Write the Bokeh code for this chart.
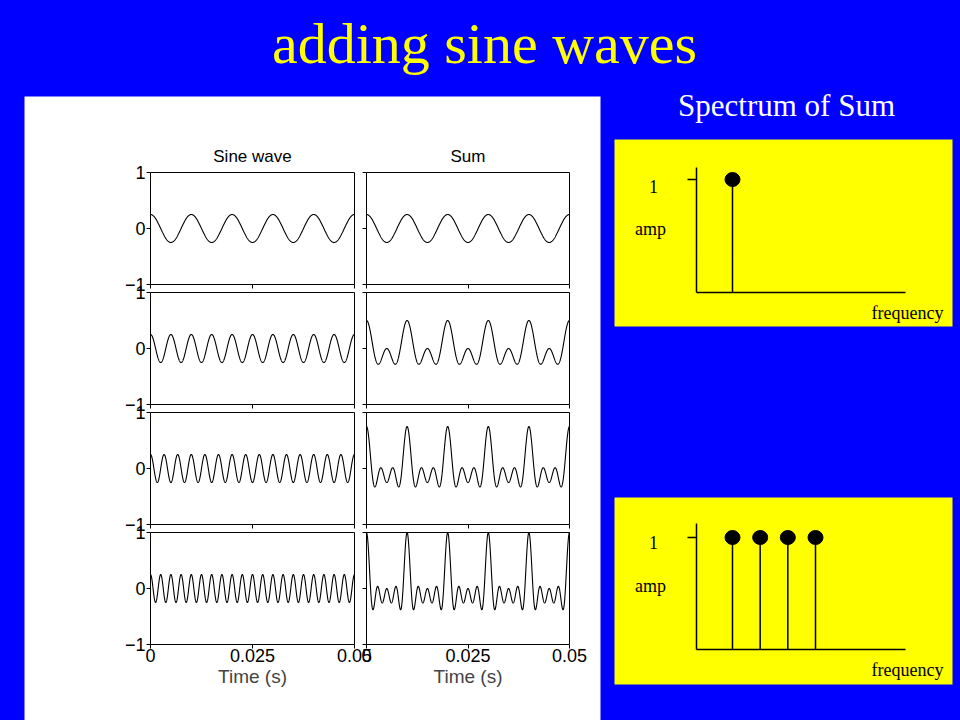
import numpy as np
from bokeh.plotting import figure
from bokeh.models import Range1d, LinearAxis, FixedTicker, Label, BoxAnnotation
from bokeh.embed import file_html
from bokeh.resources import INLINE

# ---------------- data ----------------
freqs_hz = [100, 200, 300, 400]          # frequency of each added sine (Hz)
sine_amp = [0.25, 0.25, 0.25, 0.25]       # amplitude of each sine
t_end = 0.05                              # seconds shown
x_ticks = [0, 0.025, 0.05]
y_ticks = [-1, 0, 1]
col_titles = ["Sine wave", "Sum"]
spec1_freq = [100]
spec1_amp = [1]
spec2_freq = [100, 200, 300, 400]
spec2_amp = [1, 1, 1, 1]

BLUE = "#0000ff"
YELLOW = "#ffff00"
SANS = "Liberation Sans"
SERIF = "Liberation Serif"
W, H = 960, 720
BASE_CORR = 0.31   # em-fraction lift for alphabetic baselines

t = np.linspace(0, t_end, 1601)
waves = [a * np.cos(2 * np.pi * f * t) for f, a in zip(freqs_hz, sine_amp)]
sums = list(np.cumsum(np.array(waves), axis=0))


def lin_range(p0, p1, v0, v1, size):
    """Range whose value v0 sits at pixel p0 and v1 at pixel p1 (pixels from left/bottom)."""
    k = (v1 - v0) / (p1 - p0)
    return Range1d(v0 - p0 * k, v0 + (size - p0) * k)


def up(y_from_top):
    return H - y_from_top


# ---------------- layout geometry (pixels) ----------------
col_px = [(150, 354), (366, 569)]                          # x of t=0 / t=t_end
row_px = [(up(284 + 120 * i), up(172 + 120 * i)) for i in range(4)]  # y of -1 / 1
col_names = ["cL", "cR"]
row_names = ["r0", "r1", "r2", "r3"]

extra_x = {n: lin_range(c[0], c[1], 0, t_end, W) for n, c in zip(col_names, col_px)}
extra_x["F"] = lin_range(732, 815, 100, 400, W)
extra_y = {n: lin_range(r[0], r[1], -1, 1, H) for n, r in zip(row_names, row_px)}
extra_y["A1"] = lin_range(up(292), up(179), 0, 1, H)
extra_y["A2"] = lin_range(up(649), up(537), 0, 1, H)

p = figure(width=W, height=H, x_range=Range1d(0, W), y_range=Range1d(0, H),
           extra_x_ranges=extra_x, extra_y_ranges=extra_y,
           output_backend="svg", toolbar_location=None,
           x_axis_type=None, y_axis_type=None, min_border=0)
p.min_border_left = p.min_border_right = p.min_border_top = p.min_border_bottom = 0
p.background_fill_color = BLUE
p.border_fill_color = BLUE
p.outline_line_color = None

# panels (backgrounds)
p.add_layout(BoxAnnotation(left=24, right=600, bottom=-10, top=up(96),
                           fill_color="white", fill_alpha=1.0, line_color=None,
                           level="underlay"))
for top_px, bot_px in [(139, 326), (497, 684)]:
    p.add_layout(BoxAnnotation(left=614, right=952, bottom=up(bot_px), top=up(top_px),
                               fill_color=YELLOW, fill_alpha=1.0, line_color=None,
                               level="underlay"))

# titles
p.add_layout(Label(x=484, y=up(61) + BASE_CORR * 58, text="adding sine waves",
                   text_align="center", text_baseline="alphabetic",
                   text_font=SERIF, text_font_size="58px", text_color=YELLOW))
p.add_layout(Label(x=786, y=up(115) + BASE_CORR * 31, text="Spectrum of Sum",
                   text_align="center", text_baseline="alphabetic",
                   text_font=SERIF, text_font_size="31px", text_color="white"))

# ---------------- 4 x 2 small plots ----------------
axis_common = dict(minor_tick_out=0, minor_tick_in=0, major_tick_in=0,
                   axis_line_color="black", axis_line_width=1,
                   major_tick_line_color="black", major_tick_line_width=1,
                   major_label_text_font=SANS, major_label_text_font_size="18px")

for i in range(4):
    for c in range(2):
        xn, yn = col_names[c], row_names[i]
        data = waves[i] if c == 0 else sums[i]
        last = (i == 3)
        xax = LinearAxis(x_range_name=xn, y_range_name=yn, fixed_location=-1,
                         bounds=(0, t_end), ticker=FixedTicker(ticks=x_ticks),
                         major_tick_out=4, major_label_standoff=0,
                         major_label_text_color="black" if last else None,
                         major_label_overrides={0: "0", 0.025: "0.025", 0.05: "0.05"},
                         **axis_common)
        if last:
            xax.axis_label = "Time (s)"
            xax.axis_label_text_font = SANS
            xax.axis_label_text_font_size = "19px"
            xax.axis_label_text_font_style = "normal"
            xax.axis_label_standoff = 1
        p.add_layout(xax, "below")
        yax = LinearAxis(x_range_name=xn, y_range_name=yn, fixed_location=0,
                         bounds=(-1, 1), ticker=FixedTicker(ticks=y_ticks),
                         major_tick_out=4, major_label_standoff=1,
                         major_label_text_color="black" if c == 0 else None,
                         major_label_overrides={-1: "\u22121", 0: "0", 1: "1"},
                         **axis_common)
        p.add_layout(yax, "left")
        p.add_layout(LinearAxis(x_range_name=xn, y_range_name=yn, fixed_location=1,
                                bounds=(0, t_end), ticker=FixedTicker(ticks=[]),
                                major_tick_out=0, major_label_text_color=None,
                                **axis_common), "above")
        p.add_layout(LinearAxis(x_range_name=xn, y_range_name=yn, fixed_location=t_end,
                                bounds=(-1, 1), ticker=FixedTicker(ticks=[]),
                                major_tick_out=0, major_label_text_color=None,
                                **axis_common), "right")
        p.line(t, data, line_color="black", line_width=1.1,
               x_range_name=xn, y_range_name=yn)
        if i == 0:
            p.add_layout(Label(x=(col_px[c][0] + col_px[c][1]) / 2,
                               y=up(161) + BASE_CORR * 17,
                               text=col_titles[c], text_align="center",
                               text_baseline="alphabetic", text_font=SANS,
                               text_font_size="17px", text_color="black"))


# ---------------- spectra ----------------
def spectrum(freqs, amps, yname, ytop, base_1, base_amp, base_freq):
    p.add_layout(LinearAxis(x_range_name="F", y_range_name=yname,
                            fixed_location=-30, bounds=(0, ytop),
                            ticker=FixedTicker(ticks=[1]),
                            major_tick_out=9, major_tick_in=0,
                            minor_tick_out=0, minor_tick_in=0,
                            axis_line_color="black", axis_line_width=1.5,
                            major_tick_line_color="black", major_tick_line_width=1.5,
                            major_label_text_color=None), "left")
    p.add_layout(LinearAxis(x_range_name="F", y_range_name=yname,
                            fixed_location=0, bounds=(-30, 725),
                            ticker=FixedTicker(ticks=[]),
                            major_tick_out=0, major_tick_in=0,
                            minor_tick_out=0, minor_tick_in=0,
                            axis_line_color="black", axis_line_width=1.5,
                            major_label_text_color=None), "below")
    p.segment(x0=freqs, y0=[0] * len(freqs), x1=freqs, y1=amps,
              line_color="black", line_width=1.5, x_range_name="F", y_range_name=yname)
    p.ellipse(x=freqs, y=amps, width=15, height=14, width_units="screen",
              height_units="screen", fill_color="black", line_color="black",
              x_range_name="F", y_range_name=yname)
    corr = BASE_CORR * 18
    for txt, x, yb, al in [("1", 653, base_1, "center"), ("amp", 650, base_amp, "center"),
                           ("frequency", 943, base_freq, "right")]:
        p.add_layout(Label(x=x, y=up(yb) + corr, text=txt, text_align=al,
                           text_baseline="alphabetic", text_font=SERIF,
                           text_font_size="18px", text_color="black"))


spectrum(spec1_freq, spec1_amp, "A1", 125 / 113, 192, 234.5, 318.5)
spectrum(spec2_freq, spec2_amp, "A2", 126 / 112, 548, 591.5, 675)

p.styles = {"position": "fixed", "top": "0px", "left": "0px",
            "background-color": BLUE}

open("out.html", "w").write(file_html(p, INLINE))
